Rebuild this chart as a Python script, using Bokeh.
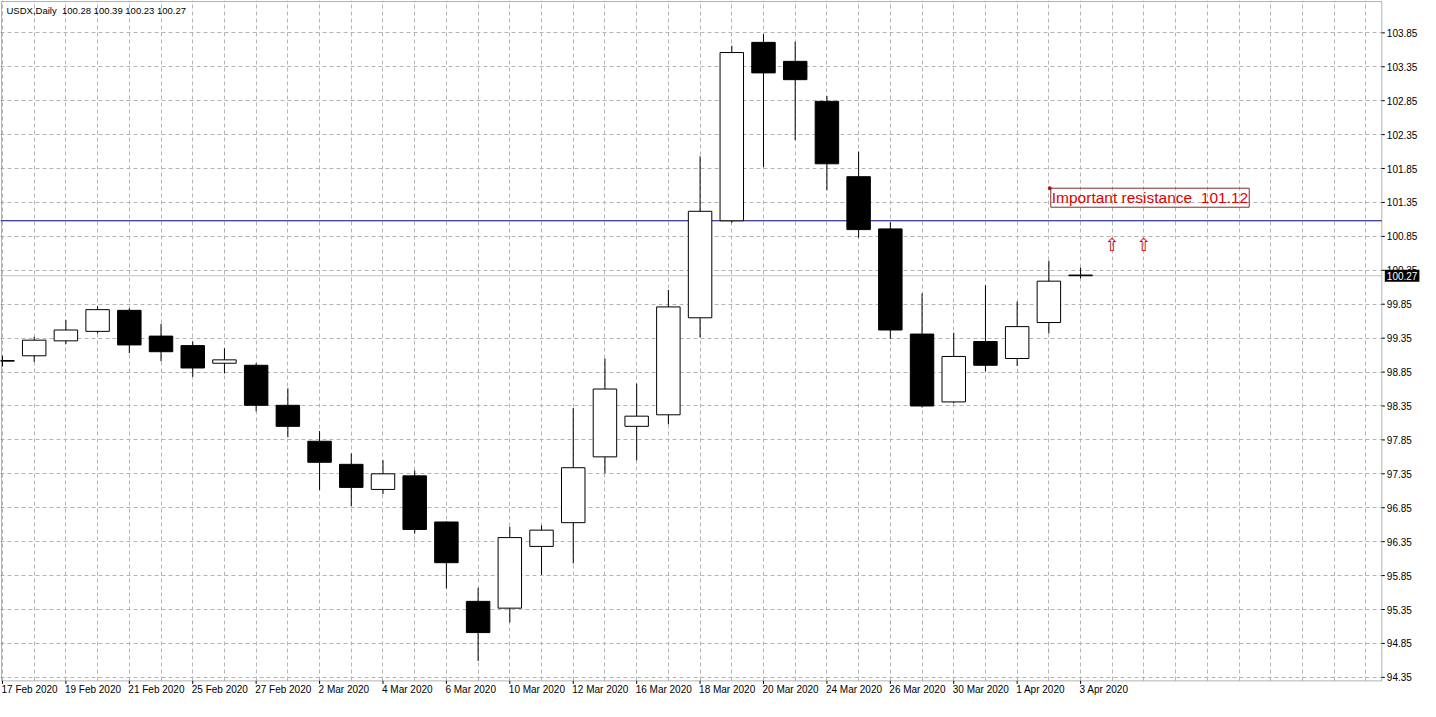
from bokeh.plotting import figure
from bokeh.models import (FixedTicker, Span, Label, ColumnDataSource,
                          Range1d, Grid, BoxAnnotation)
from bokeh.embed import file_html
from bokeh.resources import INLINE
from bokeh.core.properties import value

# ---------------- data ----------------
symbol_title = "USDX,Daily"
dates = ["17 Feb 2020", "18 Feb 2020", "19 Feb 2020", "20 Feb 2020", "21 Feb 2020",
         "24 Feb 2020", "25 Feb 2020", "26 Feb 2020", "27 Feb 2020", "28 Feb 2020",
         "2 Mar 2020", "3 Mar 2020", "4 Mar 2020", "5 Mar 2020", "6 Mar 2020",
         "9 Mar 2020", "10 Mar 2020", "11 Mar 2020", "12 Mar 2020", "13 Mar 2020",
         "16 Mar 2020", "17 Mar 2020", "18 Mar 2020", "19 Mar 2020", "20 Mar 2020",
         "23 Mar 2020", "24 Mar 2020", "25 Mar 2020", "26 Mar 2020", "27 Mar 2020",
         "30 Mar 2020", "31 Mar 2020", "1 Apr 2020", "2 Apr 2020", "3 Apr 2020"]
opens = [99.01, 99.09, 99.31, 99.45, 99.76, 99.38, 99.24, 98.98, 98.95, 98.36,
         97.83, 97.49, 97.12, 97.32, 96.64, 95.47, 95.37, 96.28, 96.63, 97.60,
         98.05, 98.22, 99.65, 101.08, 103.71, 103.43, 102.84, 101.73, 100.96, 99.41,
         98.41, 99.30, 99.05, 99.58, 100.28]
highs = [99.09, 99.37, 99.62, 99.82, 99.79, 99.56, 99.30, 99.20, 98.98, 98.61,
         97.98, 97.65, 97.55, 97.40, 96.65, 95.67, 96.57, 96.59, 98.32, 99.05,
         98.68, 100.06, 102.03, 103.66, 103.83, 103.72, 102.92, 102.10, 101.06, 100.01,
         99.43, 100.13, 99.89, 100.49, 100.39]
lows = [98.93, 99.00, 99.26, 99.42, 99.13, 99.01, 98.78, 98.83, 98.27, 97.89,
        97.11, 96.87, 97.05, 96.47, 95.66, 94.59, 95.16, 95.86, 96.03, 97.36,
        97.55, 98.08, 99.36, 101.05, 101.87, 102.27, 101.53, 100.83, 99.34, 98.33,
        98.39, 98.86, 98.94, 99.42, 100.23]
closes = [99.02, 99.32, 99.47, 99.77, 99.25, 99.15, 98.91, 99.03, 98.36, 98.05,
          97.52, 97.15, 97.35, 96.53, 96.04, 95.01, 96.41, 96.52, 97.44, 98.60,
          98.20, 99.81, 101.22, 103.56, 103.26, 103.16, 101.92, 100.95, 99.47, 98.35,
          99.08, 98.95, 99.52, 100.19, 100.27]
price_ticks = [94.35, 94.85, 95.35, 95.85, 96.35, 96.85, 97.35, 97.85, 98.35, 98.85,
               99.35, 99.85, 100.35, 100.85, 101.35, 101.85, 102.35, 102.85, 103.35, 103.85]
price_tick_labels = ["94.35", "94.85", "95.35", "95.85", "96.35", "96.85", "97.35",
                     "97.85", "98.35", "98.85", "99.35", "99.85", "100.35", "100.85",
                     "101.35", "101.85", "102.35", "102.85", "103.35", "103.85"]
date_label_bars = [0, 2, 4, 6, 8, 10, 12, 14, 16, 18, 20, 22, 24, 26, 28, 30, 32, 34]
resistance_level = 101.08
resistance_text = "Important resistance \u00a0101.12"
arrow_bars = [35, 36]
arrow_levels = [100.73, 100.73]

# ---------------- layout constants ----------------
FIG_W, FIG_H = 1420, 701
X0, X1 = -0.0625, 44.72          # visible bar range (whole canvas)
AXIS_X = 43.5                    # right price-axis line position (in bars)
PLOT_LEFT = -0.031
Y0, Y1 = 93.994, 104.327         # visible price range (whole canvas)
AXIS_Y = 94.298                  # bottom time-axis line position (in price)
PLOT_TOP = 104.312
FONT = "Liberation Sans"
PX_X = (X1 - X0) / FIG_W         # one pixel in bar units
PX_Y = (Y1 - Y0) / FIG_H         # one pixel in price units
GRID_COLOR = "#b4b4b4"

bars = list(range(len(dates)))
src = ColumnDataSource(dict(
    x=bars, open=opens, high=highs, low=lows, close=closes,
    top=[max(o, c) for o, c in zip(opens, closes)],
    bottom=[min(o, c) for o, c in zip(opens, closes)],
    fill=["white" if c >= o else "black" for o, c in zip(opens, closes)],
))

p = figure(width=FIG_W, height=FIG_H, output_backend="svg", toolbar_location=None,
           x_range=Range1d(X0, X1), y_range=Range1d(Y0, Y1),
           x_axis_location=None, y_axis_location=None,
           min_border_left=0, min_border_top=0, min_border_right=0, min_border_bottom=0,
           background_fill_color="white", border_fill_color="white")
p.outline_line_color = None
p.xgrid.visible = False
p.ygrid.visible = False

# grids
p.add_layout(Grid(dimension=1, ticker=FixedTicker(ticks=price_ticks),
                  grid_line_color=GRID_COLOR, grid_line_dash="4 3"))
p.add_layout(Grid(dimension=0, ticker=FixedTicker(ticks=list(range(0, 44))),
                  grid_line_color=GRID_COLOR, grid_line_dash="4 3"))

# horizontal lines (behind candles)
p.add_layout(Span(location=resistance_level, dimension="width",
                  line_color="#000080", line_width=1, level="underlay"))
p.add_layout(Span(location=closes[-1], dimension="width",
                  line_color="#c0c0c0", line_width=1, level="underlay"))

# white margins outside the plotting area (axis label zones)
p.add_layout(BoxAnnotation(left=AXIS_X, fill_color="white", fill_alpha=1,
                           line_color=None, level="underlay"))
p.add_layout(BoxAnnotation(top=AXIS_Y, fill_color="white", fill_alpha=1,
                           line_color=None, level="underlay"))

# candles
p.segment(x0="x", y0="low", x1="x", y1="high", source=src, line_color="black", line_width=1)
p.vbar(x="x", width=0.74, top="top", bottom="bottom", source=src,
       fill_color="fill", line_color="black", line_width=1)

# plot-area frame
p.add_layout(BoxAnnotation(left=PLOT_LEFT, right=AXIS_X, top=PLOT_TOP, bottom=AXIS_Y,
                           fill_alpha=0, line_color="black", line_width=1))

# right price axis: ticks and labels
p.segment(x0=[AXIS_X] * len(price_ticks), y0=price_ticks,
          x1=[AXIS_X + 3 * PX_X] * len(price_ticks), y1=price_ticks,
          line_color="black", line_width=1)
p.text(x=[AXIS_X] * len(price_ticks), y=price_ticks, text=price_tick_labels,
       x_offset=5, text_align="left", text_baseline="middle",
       text_font=value(FONT), text_font_size="10px", text_color="black")

# bottom time axis: ticks and labels (MT4 style, label starts at the bar)
p.segment(x0=date_label_bars, y0=[AXIS_Y] * len(date_label_bars),
          x1=date_label_bars, y1=[AXIS_Y - 3 * PX_Y] * len(date_label_bars),
          line_color="black", line_width=1)
p.text(x=date_label_bars, y=[AXIS_Y] * len(date_label_bars),
       text=[dates[i] for i in date_label_bars],
       x_offset=-1, y_offset=3, text_align="left", text_baseline="top",
       text_font=value(FONT), text_font_size="10px", text_color="black")

# arrows
p.text(x=arrow_bars, y=arrow_levels, text=["\u21e7"] * len(arrow_bars),
       text_color="#e00000", text_align="center", text_baseline="middle",
       text_font=value("DejaVu Sans"), text_font_size="18px")

# resistance annotation
p.scatter(x=[33.03], y=[101.56], size=3, color="#e00000")
p.add_layout(Label(x=33.06, y=101.42, text=resistance_text, text_color="#e00000",
                   text_font=FONT, text_font_size="15.5px", text_baseline="middle",
                   border_line_color="#7a3030", border_line_width=1, padding=1,
                   background_fill_color=None))

# header
header = f"{symbol_title} \u00a0{opens[-1]:.2f} {highs[-1]:.2f} {lows[-1]:.2f} {closes[-1]:.2f}"
p.text(x=[PLOT_LEFT], y=[PLOT_TOP], text=[header], x_offset=5, y_offset=3,
       text_align="left", text_baseline="top", text_color="black",
       text_font=value(FONT), text_font_size="9.5px")

# current price box on the right axis
p.add_layout(Label(x=AXIS_X, y=closes[-1], x_offset=3, text=f"{closes[-1]:.2f}",
                   text_color="white", background_fill_color="black",
                   text_font=FONT, text_font_size="10px", text_baseline="middle",
                   padding=2))

open("out.html", "w").write(file_html(p, INLINE))
